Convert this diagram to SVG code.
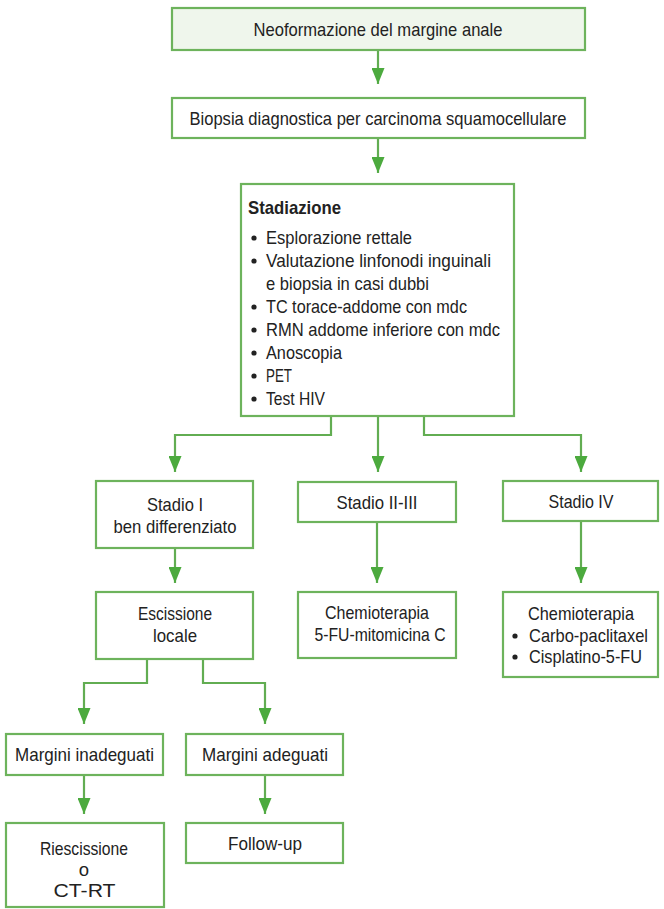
<svg xmlns="http://www.w3.org/2000/svg" width="664" height="909" viewBox="0 0 664 909">
<style>
.box{fill:#ffffff;stroke:#6db35c;stroke-width:2.2}
.first{fill:#eff6ec}
.t{font-family:"Liberation Sans",Arial,sans-serif;font-size:18.5px;fill:#222222}
.s{font-size:19px}
.c{text-anchor:middle}
.b{font-weight:bold}
.con{fill:none;stroke:#62ad52;stroke-width:2.2;marker-end:url(#ah)}
.dot{fill:#222222}
</style>
<defs>
<marker id="ah" markerUnits="userSpaceOnUse" markerWidth="17" markerHeight="13" refX="16" refY="6.5" orient="auto">
<path d="M0,0 L16,6.5 L0,13 z" fill="#4caa3e"/>
</marker>
</defs>
<rect width="664" height="909" fill="#ffffff"/>
<g id="connectors">
<path class="con" d="M378,50 V84"/>
<path class="con" d="M378,138 V173"/>
<path class="con" d="M331,416 V435 H175 V472"/>
<path class="con" d="M378,416 V472"/>
<path class="con" d="M424,416 V435 H581 V472"/>
<path class="con" d="M175,548 V583"/>
<path class="con" d="M377,522 V583"/>
<path class="con" d="M581,521 V583"/>
<path class="con" d="M147,659 V683 H84 V724"/>
<path class="con" d="M203,659 V683 H265 V724"/>
<path class="con" d="M84,775 V814"/>
<path class="con" d="M265,775 V814"/>
</g>
<g id="n1">
<rect class="box first" x="172" y="8" width="413" height="42"/>
<text class="t s c" x="378" y="36" textLength="249" lengthAdjust="spacingAndGlyphs">Neoformazione del margine anale</text>
</g>
<g id="n2">
<rect class="box" x="172" y="98" width="413" height="40"/>
<text class="t s c" x="378" y="125" textLength="377" lengthAdjust="spacingAndGlyphs">Biopsia diagnostica per carcinoma squamocellulare</text>
</g>
<g id="n3">
<rect class="box" x="241" y="184" width="273" height="232"/>
<text class="t s b" x="248" y="214" textLength="93" lengthAdjust="spacingAndGlyphs">Stadiazione</text>
<circle class="dot" cx="254" cy="238" r="2.6"/>
<text class="t s" x="266" y="244" textLength="146" lengthAdjust="spacingAndGlyphs">Esplorazione rettale</text>
<circle class="dot" cx="254" cy="261" r="2.6"/>
<text class="t s" x="266" y="267" textLength="225" lengthAdjust="spacingAndGlyphs">Valutazione linfonodi inguinali</text>
<text class="t s" x="266" y="290" textLength="163" lengthAdjust="spacingAndGlyphs">e biopsia in casi dubbi</text>
<circle class="dot" cx="254" cy="307" r="2.6"/>
<text class="t s" x="266" y="313" textLength="201" lengthAdjust="spacingAndGlyphs">TC torace-addome con mdc</text>
<circle class="dot" cx="254" cy="330" r="2.6"/>
<text class="t s" x="266" y="336" textLength="234" lengthAdjust="spacingAndGlyphs">RMN addome inferiore con mdc</text>
<circle class="dot" cx="254" cy="353" r="2.6"/>
<text class="t s" x="266" y="359" textLength="76" lengthAdjust="spacingAndGlyphs">Anoscopia</text>
<circle class="dot" cx="254" cy="376" r="2.6"/>
<text class="t s" x="266" y="382" textLength="26" lengthAdjust="spacingAndGlyphs">PET</text>
<circle class="dot" cx="254" cy="399" r="2.6"/>
<text class="t s" x="266" y="405" textLength="59" lengthAdjust="spacingAndGlyphs">Test HIV</text>
</g>
<g id="n4">
<rect class="box" x="96" y="481" width="157" height="67"/>
<text class="t c" x="175" y="511" textLength="56" lengthAdjust="spacingAndGlyphs">Stadio I</text>
<text class="t c" x="175" y="533" textLength="123" lengthAdjust="spacingAndGlyphs">ben differenziato</text>
</g>
<g id="n5">
<rect class="box" x="298" y="482" width="158" height="40"/>
<text class="t c" x="377" y="509" textLength="81" lengthAdjust="spacingAndGlyphs">Stadio II-III</text>
</g>
<g id="n6">
<rect class="box" x="503" y="481" width="155" height="40"/>
<text class="t c" x="581" y="508" textLength="65" lengthAdjust="spacingAndGlyphs">Stadio IV</text>
</g>
<g id="n7">
<rect class="box" x="96" y="592" width="157" height="67"/>
<text class="t c" x="175" y="620" textLength="74" lengthAdjust="spacingAndGlyphs">Escissione</text>
<text class="t c" x="175" y="642" textLength="44" lengthAdjust="spacingAndGlyphs">locale</text>
</g>
<g id="n8">
<rect class="box" x="298" y="592" width="158" height="66"/>
<text class="t c" x="377" y="619" textLength="104" lengthAdjust="spacingAndGlyphs">Chemioterapia</text>
<text class="t c" x="380" y="641" textLength="131" lengthAdjust="spacingAndGlyphs">5-FU-mitomicina C</text>
</g>
<g id="n9">
<rect class="box" x="503" y="592" width="155" height="85"/>
<text class="t c" x="581" y="620" textLength="106" lengthAdjust="spacingAndGlyphs">Chemioterapia</text>
<circle class="dot" cx="515" cy="636" r="2.6"/>
<text class="t" x="529" y="642" textLength="119" lengthAdjust="spacingAndGlyphs">Carbo-paclitaxel</text>
<circle class="dot" cx="515" cy="657" r="2.6"/>
<text class="t" x="529" y="663" textLength="113" lengthAdjust="spacingAndGlyphs">Cisplatino-5-FU</text>
</g>
<g id="n10">
<rect class="box" x="6" y="734" width="157" height="41"/>
<text class="t c" x="84.5" y="761" textLength="139" lengthAdjust="spacingAndGlyphs">Margini inadeguati</text>
</g>
<g id="n11">
<rect class="box" x="186" y="734" width="157" height="41"/>
<text class="t c" x="265" y="761" textLength="126" lengthAdjust="spacingAndGlyphs">Margini adeguati</text>
</g>
<g id="n12">
<rect class="box" x="6" y="823" width="158" height="84"/>
<text class="t c" x="84" y="855" textLength="88" lengthAdjust="spacingAndGlyphs">Riescissione</text>
<text class="t c" x="84" y="876">o</text>
<text class="t c" x="84.5" y="897" textLength="62" lengthAdjust="spacingAndGlyphs">CT-RT</text>
</g>
<g id="n13">
<rect class="box" x="186" y="823" width="157" height="40"/>
<text class="t c" x="265" y="850" textLength="74" lengthAdjust="spacingAndGlyphs">Follow-up</text>
</g>
</svg>
